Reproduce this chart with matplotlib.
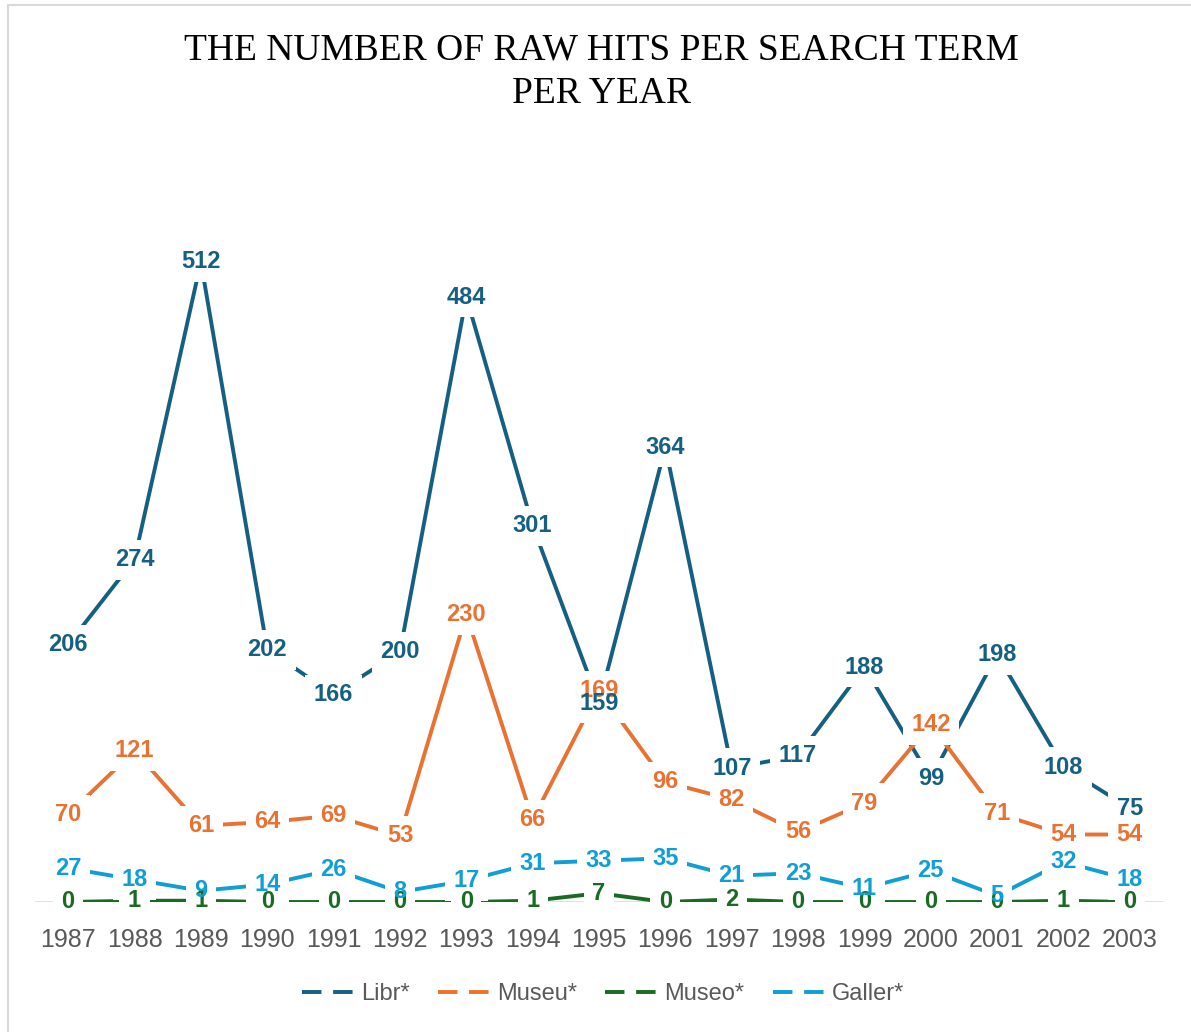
import matplotlib
matplotlib.use('Agg')
import matplotlib.pyplot as plt
import matplotlib.patches as mpatches
from matplotlib.lines import Line2D

# ── Data ─────────────────────────────────────────────────────────
years  = ['1987', '1988', '1989', '1990', '1991', '1992', '1993', '1994', '1995',
          '1996', '1997', '1998', '1999', '2000', '2001', '2002', '2003']
libr   = [206, 274, 512, 202, 166, 200, 484, 301, 159, 364, 107, 117, 188, 99, 198, 108, 75]
museu  = [70, 121, 61, 64, 69, 53, 230, 66, 169, 96, 82, 56, 79, 142, 71, 54, 54]
museo  = [0, 1, 1, 0, 0, 0, 0, 1, 7, 0, 2, 0, 0, 0, 0, 1, 0]
galler = [27, 18, 9, 14, 26, 8, 17, 31, 33, 35, 21, 23, 11, 25, 5, 32, 18]

series_names = ['Libr*', 'Museu*', 'Museo*', 'Galler*']
series_vals  = [libr, museu, museo, galler]

# ── Style ────────────────────────────────────────────────────────
COLORS = {
    'Libr*':   '#156082',
    'Museu*':  '#E97132',
    'Museo*':  '#196B24',
    'Galler*': '#0F9ED5',
}
GRAY   = '#595959'
LIGHT  = '#D9D9D9'
SANS   = ['Liberation Sans', 'DejaVu Sans']
LW     = 2.8

W, H = 1191, 1032
fig = plt.figure(figsize=(W / 100, H / 100), dpi=100, facecolor='white')
ax = fig.add_axes([35 / W, 1 - 902 / H, (1163 - 35) / W, (902 - 152) / H])
ax.set_facecolor('white')

x = list(range(len(years)))

for name, vals in zip(series_names, series_vals):
    ax.plot(x, vals, color=COLORS[name], lw=LW, solid_capstyle='butt', zorder=2)

ax.axhline(0, color=LIGHT, lw=1.2, zorder=1)

# white knock-out boxes behind every label, then the label text on top
for name, vals in zip(series_names, series_vals):
    for xi, v in zip(x, vals):
        ax.text(xi, v, str(v), ha='center', va='center', fontsize=17,
                fontweight='bold', family=SANS, color='white', zorder=5,
                clip_on=False,
                bbox=dict(boxstyle='square,pad=0.36', fc='white', ec='none'))

text_order = ['Museu*', 'Libr*', 'Museo*', 'Galler*']
for name in text_order:
    vals = series_vals[series_names.index(name)]
    for xi, v in zip(x, vals):
        ax.text(xi, v, str(v), ha='center', va='center', fontsize=17,
                fontweight='bold', family=SANS, color=COLORS[name], zorder=6,
                clip_on=False)

ax.set_xlim(-0.5, len(years) - 0.5)
ax.set_ylim(0, 600)
ax.set_xticks(x)
ax.set_xticklabels(years, fontsize=18, color=GRAY, family=SANS)
ax.tick_params(axis='x', length=0, pad=19)
ax.set_yticks([])
for sp in ax.spines.values():
    sp.set_visible(False)

# ── Title ────────────────────────────────────────────────────────
fig.text(601 / W, 1 - 72 / H, 'THE NUMBER OF RAW HITS PER SEARCH TERM\nPER YEAR',
         ha='center', va='center', fontsize=27, family=['Liberation Serif', 'DejaVu Serif'],
         color='black', linespacing=1.32)

# ── Legend ───────────────────────────────────────────────────────
handles = [Line2D([0], [0], color=COLORS[n], lw=LW, linestyle=(0, (5, 3)),
                  dash_capstyle='butt') for n in series_names]
leg = fig.legend(handles, series_names, loc='center', ncol=4,
                 bbox_to_anchor=(603 / W, 1 - 994 / H), frameon=False,
                 prop={'family': SANS, 'size': 17}, handlelength=2.4,
                 handletextpad=0.1, columnspacing=1.2)
for t in leg.get_texts():
    t.set_color(GRAY)

# chart border (partially visible at top and left)
fig.add_artist(mpatches.Rectangle((8 / W, -0.1), 2, 1 - 5 / H + 0.1,
                                  transform=fig.transFigure, fill=False,
                                  edgecolor=LIGHT, lw=1.5))

plt.savefig('out.png', dpi=100, facecolor='white')
